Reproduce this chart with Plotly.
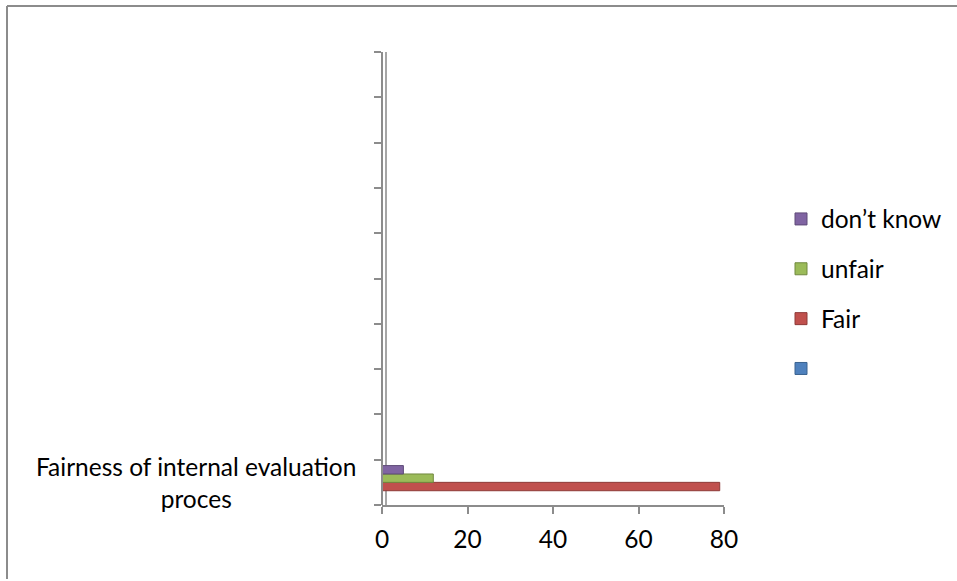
import plotly.graph_objects as go

categories = ["Fairness of internal evaluation<br>proces"]
series_names = [" ", "Fair", "unfair", "don\u2019t know"]
series_values = [[0], [79], [12], [5]]
series_colors = ["#4F81BD", "#C0504D", "#9BBB59", "#8064A2"]
line_colors = ["#3A6290", "#8E3A38", "#71893F", "#5E4A78"]
x_ticks = [0, 20, 40, 60, 80]
n_slots = 10

W, H = 957, 581
L, R, T, B = 382, 233, 52, 76
pw, ph = W - L - R, H - T - B

fig = go.Figure()
n = len(series_names)
for i, (nm, vals) in enumerate(zip(series_names, series_values)):
    fig.add_trace(go.Bar(
        x=vals, y=categories, orientation="h", name=nm,
        marker=dict(color=series_colors[i], line=dict(color=line_colors[i], width=1)),
        legendgroup=str(i), legendrank=n - i, showlegend=True,
    ))

# empty helper traces so the overlay axes (tick marks / back wall) are drawn
fig.add_trace(go.Scatter(x=[], y=[], yaxis="y2", showlegend=False, hoverinfo="skip"))
fig.add_trace(go.Scatter(x=[], y=[], yaxis="y3", showlegend=False, hoverinfo="skip"))

font = "Lato, 'Noto Sans', sans-serif"
fs = 24.5
boundaries = [k - 0.5 for k in range(n_slots + 1)]

fig.update_layout(
    width=W, height=H,
    margin=dict(l=L, r=R, t=T, b=B, autoexpand=False),
    paper_bgcolor="white", plot_bgcolor="white",
    barmode="group", bargap=0.26, bargroupgap=0,
    font=dict(family=font, size=fs, color="black"),
    xaxis=dict(range=[0, 80], tickvals=x_ticks, showgrid=False, zeroline=False,
               showline=True, linecolor="#8c8c8c", linewidth=2,
               ticks="outside", ticklen=7, tickcolor="#8c8c8c", tickwidth=2,
               tickfont=dict(size=fs, family=font), ticklabelstandoff=5),
    yaxis=dict(type="category", range=[-0.5, n_slots - 0.5], showticklabels=False,
               showgrid=False, zeroline=False, showline=False, ticks=""),
    yaxis2=dict(overlaying="y", anchor="free", position=0, side="left",
                range=[-0.5, n_slots - 0.5], tickvals=boundaries, showticklabels=False,
                showgrid=False, zeroline=False, showline=True, linecolor="#8c8c8c",
                linewidth=2, ticks="outside", ticklen=7, tickcolor="#8c8c8c", tickwidth=2),
    yaxis3=dict(overlaying="y", anchor="free", position=4 / pw, side="left",
                range=[-0.5, n_slots - 0.4], showticklabels=False, ticks="",
                showgrid=False, zeroline=False, showline=True, linecolor="#a6a6a6",
                linewidth=2, layer="below traces"),
    legend=dict(x=(781 - L) / pw, xanchor="left", y=1 - (294 - T) / ph, yanchor="middle",
                traceorder="grouped", tracegroupgap=15,
                font=dict(size=fs, family=font), itemwidth=30,
                bgcolor="rgba(0,0,0,0)"),
    showlegend=True,
)

fig.add_annotation(
    text=categories[0], x=-(L - 358) / pw, xref="paper", y=categories[0], yref="y",
    xanchor="right", yanchor="middle", align="center", showarrow=False,
    font=dict(size=fs, family=font, color="black"),
)

# chart outer border (left and top)
fig.add_shape(type="line", xref="paper", yref="paper",
              x0=(7 - L) / pw, x1=(7 - L) / pw, y0=1 + (T - 6) / ph, y1=-(579 - (H - B)) / ph,
              line=dict(color="#8c8c8c", width=2))
fig.add_shape(type="line", xref="paper", yref="paper",
              x0=(7 - L) / pw, x1=(957 - L) / pw, y0=1 + (T - 6) / ph, y1=1 + (T - 6) / ph,
              line=dict(color="#8c8c8c", width=2))

fig.write_html("out.html", config={"displayModeBar": False},
               post_script="document.body.style.margin='0';document.body.style.overflow='hidden';")
